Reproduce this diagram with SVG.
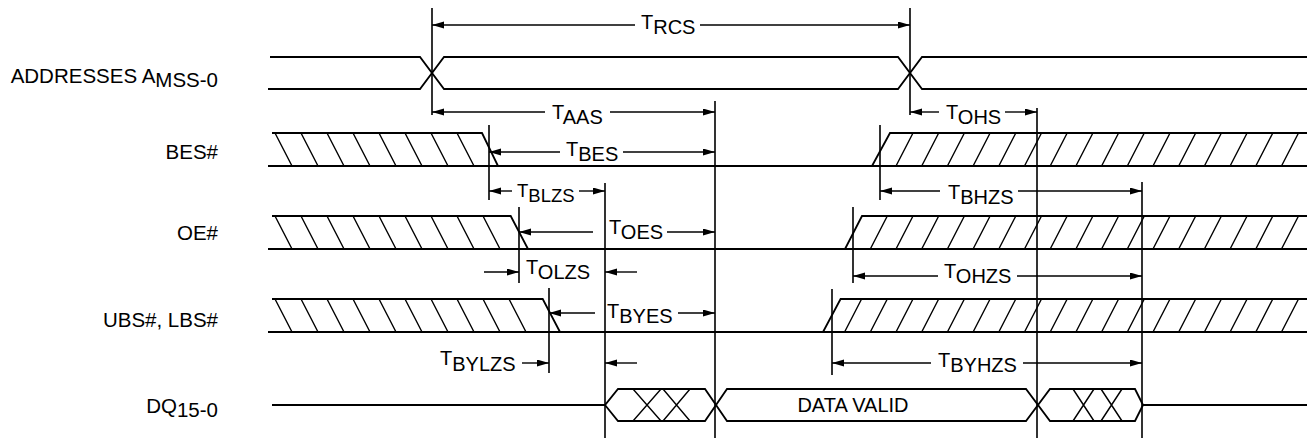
<svg xmlns="http://www.w3.org/2000/svg" width="1315" height="445" viewBox="0 0 1315 445">
<style>
text{font-family:"Liberation Sans",Arial,sans-serif;fill:#000}
.lbl{font-size:20.5px;text-anchor:end}
.t{font-size:20px}
.s{font-size:18.5px}
.w{stroke:#000;stroke-width:1.8;fill:none}
.h{stroke:#000;stroke-width:1.4;fill:none}
.v{stroke:#000;stroke-width:1.6;fill:none}
.a{stroke:#000;stroke-width:1.4;fill:none;marker-end:url(#ah)}
</style>
<defs>
<marker id="ah" markerWidth="13" markerHeight="8" refX="12" refY="3.5" orient="auto" markerUnits="userSpaceOnUse">
<path d="M0,0 L12,3.5 L0,7 z" fill="#000"/>
</marker>
</defs>
<rect width="1315" height="445" fill="#fff"/>

<g id="addresses">
<text class="lbl" x="218" y="83">ADDRESSES A<tspan dy="4">MSS-0</tspan></text>
<path class="w" d="M270 57H420L444 89H898L922 57H1307"/>
<path class="w" d="M268 89H420L444 57H898L922 89H1307"/>
</g>

<g id="bes">
<text class="lbl" x="218" y="159">BES#</text>
<path class="w" d="M272 133H482L498 166M268 166H1307M872 166L890 133H1307"/>
<path class="h" d="M275 133l17 33M301 133l17 33M327 133l17 33M353 133l17 33M379 133l17 33M405 133l17 33M431 133l17 33M457 133l17 33"/>
<path class="h" d="M896 166l17 -33M921.7 166l17 -33M947.4 166l17 -33M973.1 166l17 -33M998.8 166l17 -33M1024.5 166l17 -33M1050.2 166l17 -33M1075.9 166l17 -33M1101.6 166l17 -33M1127.3 166l17 -33M1153 166l17 -33M1178.7 166l17 -33M1204.4 166l17 -33M1230.1 166l17 -33M1255.8 166l17 -33M1281.5 166l17 -33"/>
</g>

<g id="oe">
<text class="lbl" x="218" y="240">OE#</text>
<path class="w" d="M272 216H510.7L528 249M268 249H1307M845 249L862 216H1307"/>
<path class="h" d="M275 216l17 33M301 216l17 33M327 216l17 33M353 216l17 33M379 216l17 33M405 216l17 33M431 216l17 33M457 216l17 33M483 216l17 33"/>
<path class="h" d="M870.3 249l17 -33M896 249l17 -33M921.7 249l17 -33M947.4 249l17 -33M973.1 249l17 -33M998.8 249l17 -33M1024.5 249l17 -33M1050.2 249l17 -33M1075.9 249l17 -33M1101.6 249l17 -33M1127.3 249l17 -33M1153 249l17 -33M1178.7 249l17 -33M1204.4 249l17 -33M1230.1 249l17 -33M1255.8 249l17 -33M1281.5 249l17 -33"/>
</g>

<g id="ubs">
<text class="lbl" x="218" y="327">UBS#, LBS#</text>
<path class="w" d="M272 299H542.7L560 332M268 332H1307M823 332L840.6 299H1307"/>
<path class="h" d="M275 299l17 33M301 299l17 33M327 299l17 33M353 299l17 33M379 299l17 33M405 299l17 33M431 299l17 33M457 299l17 33M483 299l17 33M509 299l17 33"/>
<path class="h" d="M844.6 332l17 -33M870.3 332l17 -33M896 332l17 -33M921.7 332l17 -33M947.4 332l17 -33M973.1 332l17 -33M998.8 332l17 -33M1024.5 332l17 -33M1050.2 332l17 -33M1075.9 332l17 -33M1101.6 332l17 -33M1127.3 332l17 -33M1153 332l17 -33M1178.7 332l17 -33M1204.4 332l17 -33M1230.1 332l17 -33M1255.8 332l17 -33M1281.5 332l17 -33"/>
</g>

<g id="dq">
<text class="lbl" x="218" y="413">DQ<tspan dy="4">15-0</tspan></text>
<path class="w" d="M272 405H605L618 389H705L727 421H1026L1050 389H1135L1143 405H1307"/>
<path class="w" d="M605 405L618 421H705L727 389H1026L1050 421H1135L1143 405"/>
<path class="h" d="M633 389L661 421M633 421L661 389M663 389L690 421M663 421L690 389"/>
<path class="h" d="M1073 389L1094 421M1073 421L1094 389M1101 389L1122 421M1101 421L1122 389"/>
<text class="t" x="853" y="412" text-anchor="middle">DATA VALID</text>
</g>

<g id="connectors">
<path class="v" d="M432 8V115M910 8V115M715 101V438M489 125V200M605 183V438M519 207V283M549 288V373M1037 108V438M880 125V200M1142 182V438M853 207V283M832 289V375"/>
<path class="a" d="M635 25H432"/><path class="a" d="M700 25H910"/>
<text class="t" x="641" y="28.5">T<tspan dy="5.5">RCS</tspan></text>
<path class="a" d="M545 112H432"/><path class="a" d="M610 112H715"/>
<text class="t" x="552" y="119">T<tspan dy="5">AAS</tspan></text>
<path class="a" d="M560 152H489"/><path class="a" d="M623 152H715"/>
<text class="t" x="566" y="156">T<tspan dy="5">BES</tspan></text>
<path class="a" d="M512 191H489"/><path class="a" d="M579 191H605"/>
<text class="s" x="517" y="197">T<tspan dy="5">BLZS</tspan></text>
<path class="a" d="M939 112H910"/><path class="a" d="M1005 112H1037"/>
<text class="t" x="946" y="119">T<tspan dy="5">OHS</tspan></text>
<path class="a" d="M940 191H880"/><path class="a" d="M1018 191H1142"/>
<text class="t" x="948" y="199">T<tspan dy="5">BHZS</tspan></text>
<path class="a" d="M593 232H519"/><path class="a" d="M667 232H715"/>
<text class="t" x="609" y="234">T<tspan dy="5">OES</tspan></text>
<path class="a" d="M484 272H519"/><path class="a" d="M637 272H605"/>
<text class="t" x="526" y="274">T<tspan dy="5">OLZS</tspan></text>
<path class="a" d="M595 313H549"/><path class="a" d="M678 313H715"/>
<text class="t" x="607" y="317.5">T<tspan dy="5">BYES</tspan></text>
<path class="a" d="M938 276H853"/><path class="a" d="M1017 276H1142"/>
<text class="t" x="944" y="277.5">T<tspan dy="5">OHZS</tspan></text>
<path class="a" d="M522 363H549"/><path class="a" d="M637 363H605"/>
<text class="t" x="440" y="365">T<tspan dy="5.5">BYLZS</tspan></text>
<path class="a" d="M931 363H832"/><path class="a" d="M1023 363H1142"/>
<text class="t" x="938" y="367">T<tspan dy="5">BYHZS</tspan></text>
</g>
</svg>
